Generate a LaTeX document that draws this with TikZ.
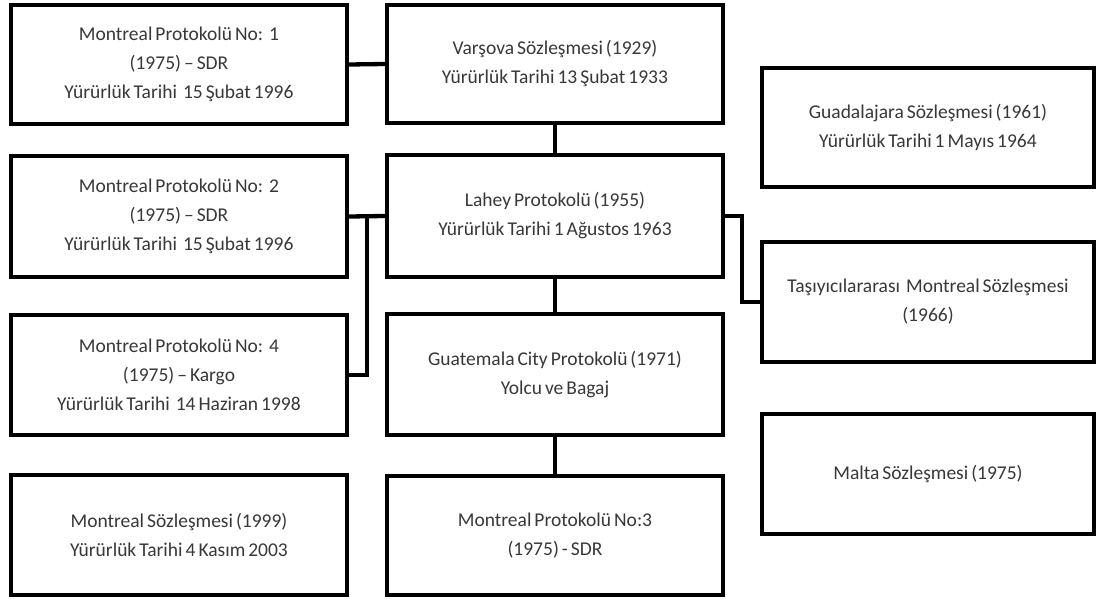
\documentclass[tikz,border=0pt]{standalone}
\usepackage{fontspec}
\setmainfont{Carlito}
\newcommand\treatyfont{\fontsize{19.5}{29}\selectfont\spaceskip=3pt plus 1pt minus 0.5pt\relax}
\begin{document}
\begin{tikzpicture}[x=1pt,y=-1pt,
  treaty/.style={draw=black, line width=4.3pt, fill=white, rectangle,
    inner sep=0pt, align=center, text=black!78, font=\treatyfont},
  lbox/.style={treaty, minimum width=336pt},
  rbox/.style={treaty, minimum width=332pt},
  link/.style={draw=black, line width=4.3pt}]
\useasboundingbox (0,0) rectangle (1096,599);
\fill[white] (0,0) rectangle (1096,599);

% left column: Montreal protocols and convention
\node[lbox, minimum height=119pt] (L1) at (179,64.5)
  {Montreal Protokolü No:\ \ 1\\(1975) – SDR\\Yürürlük Tarihi\ \ 15 Şubat 1996};
\node[lbox, minimum height=121pt] (L2) at (179,216.5)
  {Montreal Protokolü No:\ \ 2\\(1975) – SDR\\Yürürlük Tarihi\ \ 15 Şubat 1996};
\node[lbox, minimum height=120pt] (L3) at (179,375)
  {Montreal Protokolü No:\ \ 4\\(1975) – Kargo\\Yürürlük Tarihi\ \ 14 Haziran 1998};
\node[lbox, minimum height=120pt] (L4) at (179,535)
  {Montreal Sözleşmesi (1999)\\Yürürlük Tarihi 4 Kasım 2003};

% centre column: Warsaw system chain
\node[lbox, minimum height=118pt] (C1) at (555,64)
  {Varşova Sözleşmesi (1929)\\Yürürlük Tarihi 13 Şubat 1933};
\node[lbox, minimum height=122pt] (C2) at (555,216)
  {Lahey Protokolü (1955)\\Yürürlük Tarihi 1 Ağustos 1963};
\node[lbox, minimum height=121pt] (C3) at (555,374.5)
  {Guatemala City Protokolü (1971)\\Yolcu ve Bagaj};
\node[lbox, minimum height=119pt] (C4) at (555,535.5)
  {Montreal Protokolü No:3\\(1975) - SDR};

% right column
\node[rbox, minimum height=119pt] (R1) at (928,127.5)
  {Guadalajara Sözleşmesi (1961)\\Yürürlük Tarihi 1 Mayıs 1964};
\node[rbox, minimum height=120pt] (R2) at (928,302)
  {Taşıyıcılararası\ \ Montreal Sözleşmesi\\(1966)};
\node[rbox, minimum height=120pt] (R3) at (928,474)
  {Malta Sözleşmesi (1975)};

% connectors
\coordinate (j1) at (367,216.5);
\coordinate (j2) at (742,216);
\draw[link] (L1.east) -- (C1.west);
\draw[link] (L2.east) -- (C2.west);
\draw[link] (j1) |- (L3.east);
\draw[link] (C1.south) -- (C2.north);
\draw[link] (C2.south) -- (C3.north);
\draw[link] (C3.south) -- (C4.north);
\draw[link] (C2.east) -- (j2) |- (R2.west);
\end{tikzpicture}
\end{document}
